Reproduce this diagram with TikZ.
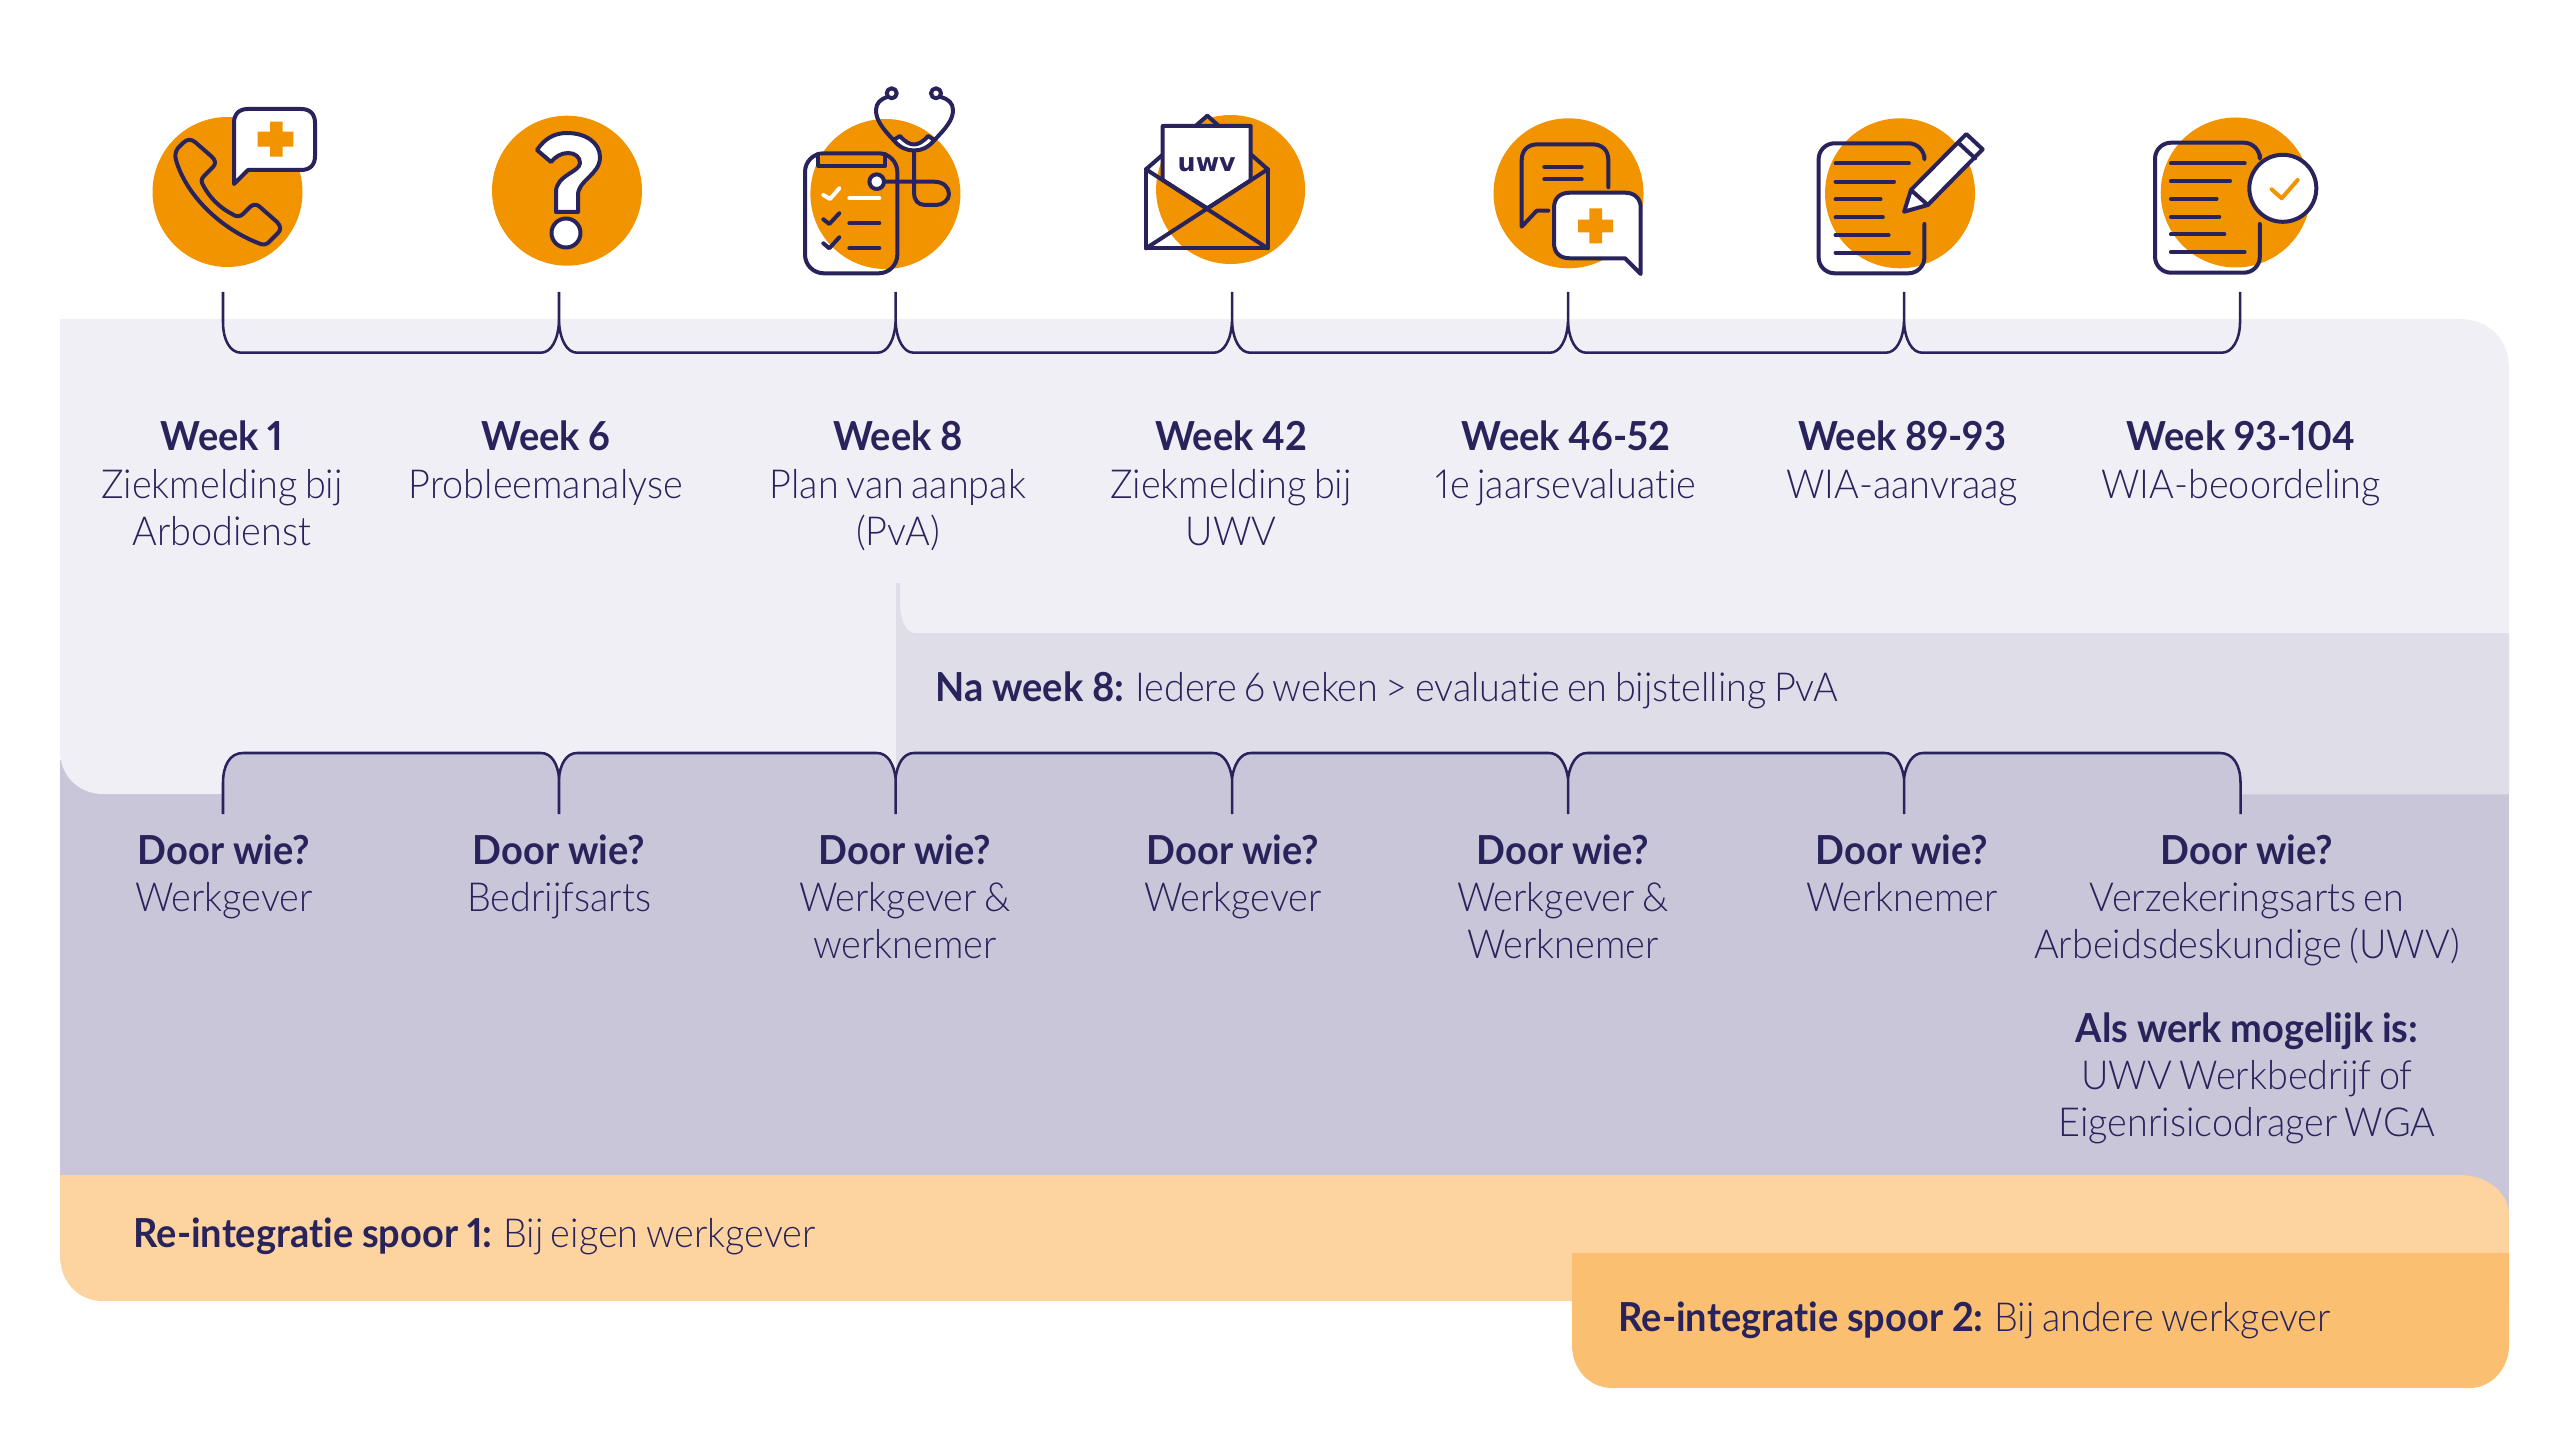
\documentclass[tikz,border=0pt]{standalone}
\usepackage{fontspec}
\setmainfont{Lato}[UprightFont=* Light,BoldFont=* Bold,Numbers=Proportional,Ligatures=NoCommon,
  UprightFeatures={FakeStretch=0.945,WordSpace=0.72},BoldFeatures={FakeStretch=0.95,WordSpace=0.95}]
\newfontfamily\uwvfont{DejaVu Sans}
\definecolor{navy}{RGB}{41,35,92}
\definecolor{paleback}{RGB}{241,239,246}
\definecolor{midback}{RGB}{223,221,232}
\definecolor{darkback}{RGB}{201,198,217}
\definecolor{iconorange}{RGB}{242,148,0}
\definecolor{softorange}{RGB}{253,211,160}
\definecolor{bandorange}{RGB}{251,191,114}
\tikzset{
  iconline/.style={draw=navy,line width=1.5pt,line join=round,line cap=round},
  iconfill/.style={iconline,fill=white},
  brace/.style={draw=navy,line width=0.95pt},
  boldtxt/.style={anchor=base,inner sep=0pt,text=navy,font=\fontsize{15}{17}\bfseries\selectfont},
  thintxt/.style={anchor=base,inner sep=0pt,text=navy,font=\fontsize{15}{17}\selectfont},
  linetxt/.style={anchor=base west,inner sep=0pt,text=navy,font=\fontsize{15}{17}\selectfont},
}
\begin{document}
\begin{tikzpicture}[x=0.375pt,y=0.375pt,yscale=-1,xscale=1]
\useasboundingbox (0,0) rectangle (2560,1454);

%Shape: dark back panel
\fill [darkback] (60,760) -- (2509,760) -- (2509,1240) -- (60,1240) -- cycle ;
%Shape: pale back panel
\fill [paleback] (60,319) -- (2459,319) .. controls (2490,319) and (2509,340) .. (2509,369) -- (2509,794) -- (103,794) .. controls (78,794) and (60,775) .. (60,751) -- cycle ;
%Shape: middle strip
\fill [midback] (896,583) -- (900,583) -- (900,603) .. controls (900,620) and (906,633) .. (915,633) -- (2509,633) -- (2509,794) -- (896,794) -- cycle ;

%Shape: dark tabs under the lower braces
\fill [darkback] (223,800) -- (223,783) .. controls (223,765) and (230,753) .. (243,753) -- (541,753) .. controls (552,753) and (558,765) .. (559,778) .. controls (560,765) and (566,753) .. (577,753) -- (877,753) .. controls (888,753) and (894,765) .. (895.6,778) .. controls (897,765) and (903,753) .. (914,753) -- (1213,753) .. controls (1224,753) and (1230,765) .. (1232,778) .. controls (1234,765) and (1240,753) .. (1251,753) -- (1549,753) .. controls (1560,753) and (1566,765) .. (1568,778) .. controls (1570,765) and (1576,753) .. (1587,753) -- (1885,753) .. controls (1896,753) and (1902,765) .. (1904,778) .. controls (1906,765) and (1912,753) .. (1923,753) -- (2220,753) .. controls (2233,753) and (2240.5,765) .. (2240.5,783) -- (2240.5,800) -- cycle ;

%Straight Lines: upper braces
\draw [brace] (223,292) -- (223,322) .. controls (223,340) and (230,352.7) .. (241,352.7) -- (541,352.7) .. controls (551,352.7) and (558,340) .. (559,322) ;
\draw [brace] (559,292) -- (559,322) .. controls (560,340) and (567,352.7) .. (577,352.7) -- (877.6,352.7) .. controls (887.6,352.7) and (894.6,340) .. (895.6,322) ;
\draw [brace] (895.6,292) -- (895.6,322) .. controls (896.6,340) and (903.6,352.7) .. (913.6,352.7) -- (1214,352.7) .. controls (1224,352.7) and (1231,340) .. (1232,322) ;
\draw [brace] (1232,292) -- (1232,322) .. controls (1233,340) and (1240,352.7) .. (1250,352.7) -- (1550,352.7) .. controls (1560,352.7) and (1567,340) .. (1568,322) ;
\draw [brace] (1568,292) -- (1568,322) .. controls (1569,340) and (1576,352.7) .. (1586,352.7) -- (1886,352.7) .. controls (1896,352.7) and (1903,340) .. (1904,322) ;
\draw [brace] (1904,292) -- (1904,322) .. controls (1905,340) and (1912,352.7) .. (1922,352.7) -- (2222,352.7) .. controls (2232,352.7) and (2240,340) .. (2240,322) -- (2240,292) ;

%Straight Lines: lower braces
\draw [brace] (223,814) -- (223,783) .. controls (223,765) and (230,753) .. (243,753) -- (541,753) .. controls (552,753) and (558,765) .. (559,778) -- (559,814) ;
\draw [brace] (559,778) .. controls (560,765) and (566,753) .. (577,753) -- (877,753) .. controls (888,753) and (894,765) .. (895.6,778) -- (895.6,814) ;
\draw [brace] (895.6,778) .. controls (897,765) and (903,753) .. (914,753) -- (1213,753) .. controls (1224,753) and (1230,765) .. (1232,778) -- (1232,814) ;
\draw [brace] (1232,778) .. controls (1234,765) and (1240,753) .. (1251,753) -- (1549,753) .. controls (1560,753) and (1566,765) .. (1568,778) -- (1568,814) ;
\draw [brace] (1568,778) .. controls (1570,765) and (1576,753) .. (1587,753) -- (1885,753) .. controls (1896,753) and (1902,765) .. (1904,778) -- (1904,814) ;
\draw [brace] (1904,778) .. controls (1906,765) and (1912,753) .. (1923,753) -- (2220,753) .. controls (2233,753) and (2240.5,765) .. (2240.5,783) -- (2240.5,814) ;

%Shape: orange bands
\fill [softorange] (60,1175) -- (2459,1175) .. controls (2490,1175) and (2509,1195) .. (2509,1215) -- (2509,1301) -- (103,1301) .. controls (78,1301) and (60,1282) .. (60,1255) -- cycle ;
\fill [bandorange] (1572,1253) -- (2509,1253) -- (2509,1345) .. controls (2509,1370) and (2490,1388) .. (2470,1388) -- (1612,1388) .. controls (1590,1388) and (1572,1370) .. (1572,1345) -- cycle ;

%Shape: phone icon
\fill [iconorange] (227.5,192) circle [radius=75] ;
\draw [iconline] (178,148) -- (183,143) .. controls (187,139) and (191,139) .. (195,142) -- (211,156) .. controls (216,160) and (216,164) .. (213,167) -- (204,176) .. controls (201,179) and (201,182) .. (203,185) .. controls (209,197) and (220,208) .. (232,214) .. controls (236,217) and (240,217) .. (243,214) -- (250,207) .. controls (253,204) and (257,204) .. (260,207) -- (277,222) .. controls (281,226) and (281,230) .. (278,233) -- (268,243) .. controls (265,245) and (262,245) .. (258,243) .. controls (220,228) and (186,195) .. (176,160) .. controls (175,156) and (175,152) .. (178,148) -- cycle ;
\draw [iconfill] (234,184) -- (234,123) .. controls (234,114) and (239,109) .. (248,109) -- (301,109) .. controls (310,109) and (315,114) .. (315,123) -- (315,156) .. controls (315,165) and (310,170) .. (301,170) -- (248,170) -- cycle ;
\fill [iconorange] (270,121.7) -- (282.7,121.7) -- (282.7,131.7) -- (293.3,131.7) -- (293.3,146.7) -- (282.7,146.7) -- (282.7,156.7) -- (270,156.7) -- (270,146.7) -- (257.7,146.7) -- (257.7,131.7) -- (270,131.7) -- cycle ;

%Shape: question icon
\fill [iconorange] (567,190.7) circle [radius=75] ;
\draw [iconfill] (537,150) .. controls (545,138) and (555,133) .. (567,133) .. controls (586,133) and (600,143) .. (600,157) .. controls (600,175) and (578,180) .. (578,195) -- (578,212) -- (556,212) -- (556,192) .. controls (556,175) and (580,172) .. (580,163) .. controls (580,157) and (575,153) .. (568,153) .. controls (561,153) and (555,157) .. (551,162) -- cycle ;
\draw [iconfill] (566,233) circle [radius=14.5] ;

%Shape: clipboard icon
\fill [iconorange] (885.4,194) circle [radius=75] ;
\draw [iconline,rounded corners=7] (805,153.3) rectangle (897.3,273.3) ;
\draw [iconline] (818.3,154) -- (818.3,166) -- (885,166) -- (885,154) ;
\draw [iconline,draw=white] (823.3,195) -- (830,199) -- (839.3,188.3) ;
\draw [iconline,draw=white] (849.3,198.3) -- (879.3,198.3) ;
\draw [iconline] (823.3,219.3) -- (829.3,224) -- (839.3,213.3) ;
\draw [iconline] (849.3,223.3) -- (879.3,223.3) ;
\draw [iconline] (823.3,243.3) -- (829.3,248.3) -- (839.3,237.3) ;
\draw [iconline] (849.3,248.3) -- (879.3,248.3) ;
\draw [iconline] (884,181.7) -- (934,181.7) .. controls (943,181.7) and (949,187) .. (949,194) .. controls (949,200) and (943,205) .. (936,205) -- (925,205) .. controls (918,205) and (914,200) .. (914,193) -- (914,150) ;
\draw [iconfill] (876.7,181.7) circle [radius=7.3] ;
\draw [iconfill] (893.5,140) .. controls (900,148) and (907,150.5) .. (914,150.5) .. controls (921,150.5) and (928,148) .. (934.5,140) -- (928,136) .. controls (923,142) and (918,144.5) .. (914,144.5) .. controls (910,144.5) and (905,142) .. (900,136) -- cycle ;
\draw [iconline] (893.5,140) .. controls (882,128) and (876,120) .. (876,110) .. controls (876,103) and (881,99) .. (887,97) ;
\draw [iconline] (934.5,140) .. controls (946,128) and (953,120) .. (953,110) .. controls (953,103) and (948,99) .. (941,97) ;
\draw [iconfill] (891.7,93.3) circle [radius=5] ;
\draw [iconfill] (936,93.3) circle [radius=5] ;

%Shape: envelope icon
\fill [iconorange] (1230.6,189.5) circle [radius=74.5] ;
\draw [iconline] (1146,169.3) -- (1207.3,115.7) -- (1267.7,169.3) ;
\draw [iconfill] (1162.7,180) -- (1162.7,126) -- (1250.7,126) -- (1250.7,180.3) -- (1207.3,208.3) -- cycle ;
\draw [iconline] (1146,169.3) -- (1146,248.3) -- (1267.7,248.3) -- (1267.7,169.3) ;
\draw [iconline] (1146,169.3) -- (1267.7,248.3) ;
\draw [iconline] (1267.7,169.3) -- (1146,248.3) ;
\draw (1206.7,171.5) node (uwvmark) [anchor=base,inner sep=0pt,text=navy,font=\fontsize{9.5}{11}\uwvfont\bfseries\selectfont] {uwv} ;

%Shape: chat icon
\fill [iconorange] (1568.5,193.3) circle [radius=75] ;
\draw [iconline] (1608.3,187.3) -- (1608.3,160) .. controls (1608.3,150) and (1602,144.3) .. (1592,144.3) -- (1538,144.3) .. controls (1528,144.3) and (1521.7,150) .. (1521.7,160) -- (1521.7,226.7) -- (1536.7,210.7) -- (1548.3,210.7) ;
\draw [iconline] (1544.3,166.7) -- (1581.7,166.7) ;
\draw [iconline] (1544.3,179.3) -- (1581.7,179.3) ;
\draw [iconfill] (1640.7,274) -- (1640.7,208) .. controls (1640.7,198) and (1634,192.7) .. (1625,192.7) -- (1570,192.7) .. controls (1560,192.7) and (1554,198) .. (1554,208) -- (1554,243) .. controls (1554,253) and (1560,258.3) .. (1570,258.3) -- (1625,258.3) -- cycle ;
\fill [iconorange] (1589.3,208.5) -- (1602,208.5) -- (1602,219.6) -- (1613.2,219.6) -- (1613.2,232.4) -- (1602,232.4) -- (1602,243.5) -- (1589.3,243.5) -- (1589.3,232.4) -- (1578.2,232.4) -- (1578.2,219.6) -- (1589.3,219.6) -- cycle ;

%Shape: document and pencil icon
\fill [iconorange] (1900,193.3) circle [radius=75] ;
\draw [iconline,rounded corners=6] (1924.4,156) -- (1924.4,143.3) -- (1818.6,143.3) -- (1818.6,273.3) -- (1924.4,273.3) -- (1924.4,224) ;
\draw [iconline] (1835.5,163.3) -- (1908.9,163.3) ;
\draw [iconline] (1835.5,181.7) -- (1894,181.7) ;
\draw [iconline] (1835.5,199.3) -- (1880.5,199.3) ;
\draw [iconline] (1835.5,217.3) -- (1882.8,217.3) ;
\draw [iconline] (1835.5,235) -- (1888.6,235) ;
\draw [iconline] (1835.5,252.7) -- (1908.9,252.7) ;
\draw [iconfill] (1904.1,211.7) -- (1910.9,190) -- (1966.3,134) -- (1982.6,149.3) -- (1927.8,205) -- cycle ;
\draw [iconline] (1958.9,143.3) -- (1975.1,158.3) ;
\draw [iconline] (1910.9,190) -- (1927.8,205) ;

%Shape: document and check icon
\fill [iconorange] (2235.7,192.5) circle [radius=75] ;
\draw [iconline,rounded corners=6] (2259.8,155) -- (2259.8,142.7) -- (2155,142.7) -- (2155,272.7) -- (2259.8,272.7) -- (2259.8,224) ;
\draw [iconline] (2170.9,163.3) -- (2244.6,163.3) ;
\draw [iconline] (2170.9,181) -- (2230,181) ;
\draw [iconline] (2170.9,198.7) -- (2216.5,198.7) ;
\draw [iconline] (2170.9,216.7) -- (2219.2,216.7) ;
\draw [iconline] (2170.9,234.3) -- (2224.3,234.3) ;
\draw [iconline] (2170.9,252) -- (2244.6,252) ;
\draw [iconfill] (2282.8,188.3) circle [radius=33.5] ;
\draw [iconline,draw=iconorange] (2271.6,189.3) -- (2281.7,198.3) -- (2297.6,180) ;

% Text Node
\draw (222,450) node (wkone) [boldtxt] {Week 1};
\draw (222,498) node (wkonea) [thintxt] {Ziekmelding bij};
\draw (222,545) node (wkoneb) [thintxt] {Arbodienst};
% Text Node
\draw (546,450) node (wksix) [boldtxt] {Week 6};
\draw (546,498) node (wksixa) [thintxt] {Probleemanalyse};
% Text Node
\draw (898,450) node (wkeight) [boldtxt] {Week 8};
\draw (898,498) node (wkeighta) [thintxt] {Plan van aanpak};
\draw (898,545) node (wkeightb) [thintxt] {(PvA)};
% Text Node
\draw (1231,450) node (wkfortytwo) [boldtxt] {Week 42};
\draw (1231,498) node (wkfortytwoa) [thintxt] {Ziekmelding bij};
\draw (1231,545) node (wkfortytwob) [thintxt] {UWV};
% Text Node
\draw (1566,450) node (wkfortysix) [boldtxt] {Week 46-52};
\draw (1566,498) node (wkfortysixa) [thintxt] {1e jaarsevaluatie};
% Text Node
\draw (1902,450) node (wkeightynine) [boldtxt] {Week 89-93};
\draw (1902,498) node (wkeightyninea) [thintxt] {WIA-aanvraag};
% Text Node
\draw (2241,450) node (wkninetythree) [boldtxt] {Week 93-104};
\draw (2241,498) node (wkninetythreea) [thintxt] {WIA-beoordeling};
% Text Node
\draw (935,701) node (naweek) [linetxt] {\textbf{Na week 8:} Iedere 6 weken > evaluatie en bijstelling PvA};

% Text Node
\draw (224,864) node (doorone) [boldtxt] {Door wie?};
\draw (224,911) node (dooronea) [thintxt] {Werkgever};
% Text Node
\draw (559,864) node (doortwo) [boldtxt] {Door wie?};
\draw (559,911) node (doortwoa) [thintxt] {Bedrijfsarts};
% Text Node
\draw (905,864) node (doorthree) [boldtxt] {Door wie?};
\draw (905,911) node (doorthreea) [thintxt] {Werkgever \&};
\draw (905,958) node (doorthreeb) [thintxt] {werknemer};
% Text Node
\draw (1233,864) node (doorfour) [boldtxt] {Door wie?};
\draw (1233,911) node (doorfoura) [thintxt] {Werkgever};
% Text Node
\draw (1563,864) node (doorfive) [boldtxt] {Door wie?};
\draw (1563,911) node (doorfivea) [thintxt] {Werkgever \&};
\draw (1563,958) node (doorfiveb) [thintxt] {Werknemer};
% Text Node
\draw (1902,864) node (doorsix) [boldtxt] {Door wie?};
\draw (1902,911) node (doorsixa) [thintxt] {Werknemer};
% Text Node
\draw (2247,864) node (doorseven) [boldtxt] {Door wie?};
\draw (2247,911) node (doorsevena) [thintxt] {Verzekeringsarts en};
\draw (2247,958) node (doorsevenb) [thintxt] {Arbeidsdeskundige (UWV)};
% Text Node
\draw (2247,1042) node (alswerk) [boldtxt] {Als werk mogelijk is:};
\draw (2247,1089) node (alswerka) [thintxt] {UWV Werkbedrijf of};
\draw (2247,1136) node (alswerkb) [thintxt] {Eigenrisicodrager WGA};

% Text Node
\draw (133,1247) node (spoorone) [linetxt] {\textbf{Re-integratie spoor 1:} Bij eigen werkgever};
% Text Node
\draw (1618,1331) node (spoortwo) [linetxt] {\textbf{Re-integratie spoor 2:} Bij andere werkgever};

\end{tikzpicture}
\end{document}
